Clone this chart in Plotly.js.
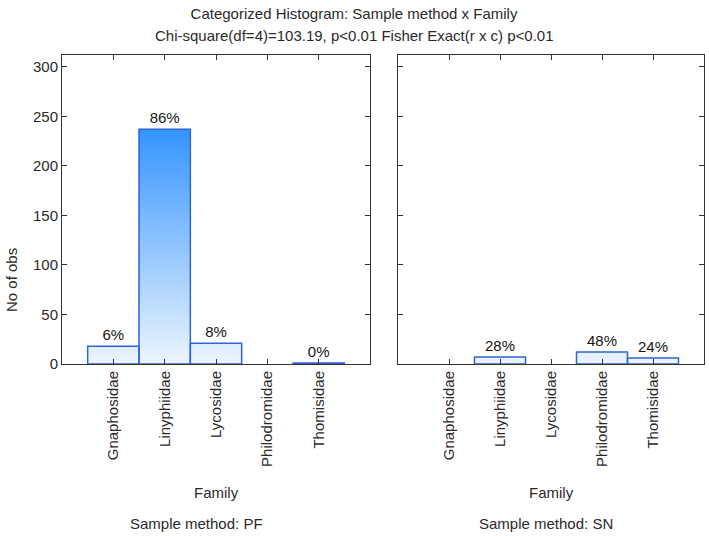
<!DOCTYPE html>
<html><head><meta charset="utf-8">
<script src="https://cdn.plot.ly/plotly-3.0.1.min.js"></script>
<style>html,body{margin:0;padding:0;background:#fff}</style>
</head><body><div id="chart" style="width:709px;height:536px"></div>
<script>
// ---- data ----
const categories = ['Gnaphosidae', 'Linyphiidae', 'Lycosidae', 'Philodromidae', 'Thomisidae'];
const pfCounts = [18, 237, 21, 0, 1];
const snCounts = [0, 7, 0, 12, 6];
const panelLabels = ['Sample method: PF', 'Sample method: SN'];
const yTickVals = [0, 50, 100, 150, 200, 250, 300];
const titleLine1 = 'Categorized Histogram: Sample method x Family';
const titleLine2 = 'Chi-square(df=4)=103.19, p&lt;0.01 Fisher Exact(r x c) p&lt;0.01';

// ---- styling ----
const FONT = 'Liberation Sans, Arial, sans-serif';
const TXT = '#2a2a2a';
const AXC = '#333333';
const OUTLINE = '#2f63d3';
const gradScale = [[0, '#edf5fe'], [1, '#3494ff']];
const maxCount = Math.max(...pfCounts, ...snCounts);
const idx = categories.map((_, i) => i);

function panelTraces(counts, xa, ya) {
  const total = counts.reduce((a, b) => a + b, 0);
  const px = [], py = [];
  counts.forEach((v, i) => {
    if (v <= 0) return;
    px.push(i - 0.5, i - 0.5, i + 0.5, i + 0.5, i - 0.5, null);
    py.push(0, v, v, 0, 0, null);
  });
  const fillTrace = {
    type: 'scatter', mode: 'lines', x: px, y: py, xaxis: xa, yaxis: ya,
    fill: 'toself', connectgaps: false,
    fillgradient: {type: 'vertical', colorscale: gradScale, start: 0, stop: maxCount},
    line: {color: OUTLINE, width: 1.5}, hoverinfo: 'skip', showlegend: false
  };
  const barTrace = {
    type: 'bar', x: idx, y: counts, width: 1, xaxis: xa, yaxis: ya,
    marker: {color: 'rgba(0,0,0,0)', line: {width: 0}},
    text: counts.map(v => v > 0 ? Math.round(v / total * 100) + '%' : ''),
    textposition: 'outside', cliponaxis: false,
    textfont: {family: FONT, size: 15, color: '#161616'},
    hovertemplate: '%{y}<extra></extra>', showlegend: false
  };
  return [fillTrace, barTrace];
}

const W = 709, H = 536;
const yDom = [1 - 364 / H, 1 - 55 / H];
const xDom1 = [62 / W, 370 / W];
const xDom2 = [398 / W, 704 / W];

function xAxis(dom, anchor) {
  return {
    domain: dom, anchor: anchor, range: [-1, 5], tickmode: 'array',
    tickvals: idx, ticktext: categories, tickangle: -90,
    ticks: 'inside', ticklen: 5, tickcolor: AXC, showline: true, mirror: 'ticks',
    linecolor: AXC, linewidth: 1, showgrid: false, zeroline: false,
    tickfont: {family: FONT, size: 15, color: TXT}, automargin: false, fixedrange: true
  };
}
function yAxis(anchor, labels) {
  return {
    domain: yDom, anchor: anchor, range: [0, 312], tickmode: 'array', tickvals: yTickVals,
    ticks: 'inside', ticklen: 5, tickcolor: AXC, showline: true, mirror: 'ticks',
    linecolor: AXC, linewidth: 1, showgrid: false, zeroline: false,
    showticklabels: labels, tickfont: {family: FONT, size: 15, color: TXT},
    automargin: false, fixedrange: true
  };
}

const data = [...panelTraces(pfCounts, 'x', 'y'), ...panelTraces(snCounts, 'x2', 'y2')];

const ann = (text, x, y, size, angle) => ({
  text: text, xref: 'paper', yref: 'paper', x: x / W, y: 1 - y / H,
  xanchor: 'center', yanchor: 'middle', showarrow: false, textangle: angle || 0,
  font: {family: FONT, size: size, color: TXT}
});

const layout = {
  width: W, height: H, margin: {l: 0, r: 0, t: 0, b: 0},
  paper_bgcolor: '#ffffff', plot_bgcolor: '#ffffff',
  font: {family: FONT, color: TXT},
  title: {text: titleLine1, font: {family: FONT, size: 15, color: TXT},
          x: 354 / W, xanchor: 'center', y: 1 - 14 / H, yanchor: 'middle', yref: 'container'},
  xaxis: xAxis(xDom1, 'y'), yaxis: yAxis('x', true),
  xaxis2: xAxis(xDom2, 'y2'), yaxis2: yAxis('x2', false),
  bargap: 0,
  annotations: [
    ann(titleLine2, 354, 36, 15),
    ann('No of obs', 11, 280, 15, -90),
    ann('Family', 216, 492, 15),
    ann('Family', 551, 492, 15),
    ann(panelLabels[0], 196, 523, 15),
    ann(panelLabels[1], 546, 523, 15)
  ]
};

Plotly.newPlot('chart', data, layout, {displayModeBar: false, staticPlot: true});
</script></body></html>
